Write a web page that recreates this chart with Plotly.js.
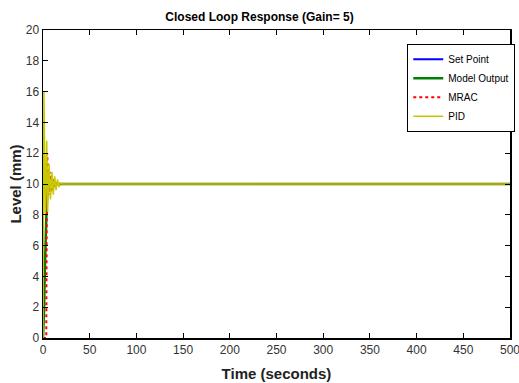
<!DOCTYPE html>
<html><head><meta charset="utf-8">
<script src="https://cdn.plot.ly/plotly-3.0.1.min.js"></script>
<style>html,body{margin:0;padding:0;background:#fff}#c{width:519px;height:383px}</style>
</head><body><div id="c"></div>
<script>
const spT = [0, 0, 500];
const spY = [0, 10, 10];
const moT = [0, 1, 2, 3, 4, 5, 6, 8, 500];
const moY = [0, 1.5, 4.5, 7, 8.8, 9.6, 9.9, 10, 10];
const mrT = [0, 3.5, 4, 4.5, 5, 6, 7, 8, 9, 10, 11, 12, 13, 15, 500];
const mrY = [0, 0, 8, 12, 11, 9.3, 10.8, 9.4, 10.6, 9.6, 10.3, 9.8, 10.1, 10, 10];
const piT = [0, 1, 2.5, 4, 5, 6.5, 8, 9.5, 11, 12.5, 14, 15.5, 17, 18.5, 20, 500];
const piY = [0, 16, 8, 12.8, 8.2, 11.3, 9, 10.8, 9.3, 10.5, 9.6, 10.3, 9.8, 10.1, 10, 10];
const xTicks = [0, 50, 100, 150, 200, 250, 300, 350, 400, 450, 500];
const yTicks = [0, 2, 4, 6, 8, 10, 12, 14, 16, 18, 20];

const traces = [
  {x: spT, y: spY, name: 'Set Point', mode: 'lines', line: {color: '#0000ff', width: 2}},
  {x: moT, y: moY, name: 'Model Output', mode: 'lines', line: {color: '#008000', width: 2.5}},
  {x: mrT, y: mrY, name: 'MRAC', mode: 'lines', line: {color: '#ff0000', width: 2, dash: 'dot'}},
  {x: piT, y: piY, name: 'PID', mode: 'lines', line: {color: '#c8c800', width: 1.5}}
];
const ax = {
  showgrid: false, zeroline: false, showline: true, mirror: 'ticks', linecolor: '#000', linewidth: 1.5,
  ticks: 'inside', ticklen: 5, tickcolor: '#000', tickwidth: 1, ticklabeloverflow: 'allow',
  tickfont: {family: 'Liberation Sans, Arial, sans-serif', size: 12, color: '#333'}
};
const layout = {
  width: 519, height: 383,
  margin: {l: 43, r: 9, t: 30, b: 45, autoexpand: false},
  paper_bgcolor: '#fff', plot_bgcolor: '#fff',
  title: {text: '<b>Closed Loop Response (Gain= 5)</b>', x: 0.5, xanchor: 'center', y: 0.968, yanchor: 'top',
    font: {family: 'Liberation Sans, Arial, sans-serif', size: 12, color: '#000'}},
  xaxis: Object.assign({}, ax, {range: [0, 500], tickvals: xTicks, automargin: true,
    title: {text: '<b>Time (seconds)</b>', standoff: 12, font: {family: 'Liberation Sans, Arial, sans-serif', size: 15, color: '#222'}}}),
  yaxis: Object.assign({}, ax, {range: [0, 20], tickvals: yTicks, automargin: true,
    title: {text: '<b>Level (mm)</b>', standoff: 0, font: {family: 'Liberation Sans, Arial, sans-serif', size: 15, color: '#222'}}}),
  showlegend: true,
  legend: {x: 0.78, y: 0.955, xanchor: 'left', yanchor: 'top', bgcolor: '#fff', bordercolor: '#000', borderwidth: 1,
    font: {family: 'Liberation Sans, Arial, sans-serif', size: 10, color: '#000'}, tracegroupgap: 0, itemwidth: 30}
};
Plotly.newPlot('c', traces, layout, {displayModeBar: false, staticPlot: true});
</script></body></html>
